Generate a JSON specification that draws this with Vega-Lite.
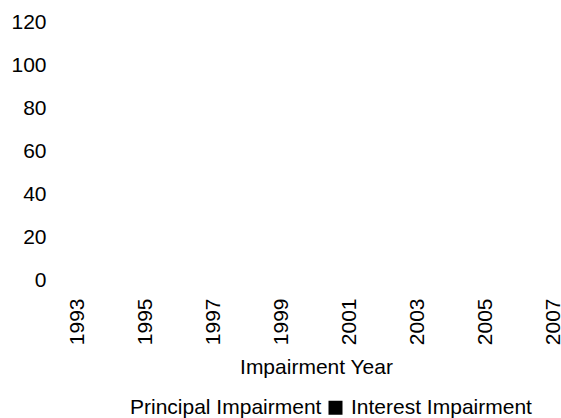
{
  "$schema": "https://vega.github.io/schema/vega-lite/v6.json",
  "width": 510,
  "height": 258,
  "padding": {"left": 10, "top": 11, "right": 0, "bottom": 0},
  "background": "white",
  "config": {
    "view": {"stroke": null},
    "font": "Liberation Sans",
    "axis": {"grid": false, "domain": false, "ticks": false, "labelColor": "black", "labelFontSize": 21, "titleColor": "black", "titleFontSize": 21, "titleFontWeight": "normal"},
    "legend": {"labelFontSize": 21, "labelColor": "black", "labelLimit": 0}
  },
  "data": {
    "values": [
      {"year": "1993", "type": "Principal Impairment", "value": 0},
      {"year": "1994", "type": "Principal Impairment", "value": 0},
      {"year": "1995", "type": "Principal Impairment", "value": 0},
      {"year": "1996", "type": "Principal Impairment", "value": 0},
      {"year": "1997", "type": "Principal Impairment", "value": 0},
      {"year": "1998", "type": "Principal Impairment", "value": 0},
      {"year": "1999", "type": "Principal Impairment", "value": 0},
      {"year": "2000", "type": "Principal Impairment", "value": 0},
      {"year": "2001", "type": "Principal Impairment", "value": 0},
      {"year": "2002", "type": "Principal Impairment", "value": 0},
      {"year": "2003", "type": "Principal Impairment", "value": 0},
      {"year": "2004", "type": "Principal Impairment", "value": 0},
      {"year": "2005", "type": "Principal Impairment", "value": 0},
      {"year": "2006", "type": "Principal Impairment", "value": 0},
      {"year": "2007", "type": "Principal Impairment", "value": 0},
      {"year": "1993", "type": "Interest Impairment", "value": 0},
      {"year": "1994", "type": "Interest Impairment", "value": 0},
      {"year": "1995", "type": "Interest Impairment", "value": 0},
      {"year": "1996", "type": "Interest Impairment", "value": 0},
      {"year": "1997", "type": "Interest Impairment", "value": 0},
      {"year": "1998", "type": "Interest Impairment", "value": 0},
      {"year": "1999", "type": "Interest Impairment", "value": 0},
      {"year": "2000", "type": "Interest Impairment", "value": 0},
      {"year": "2001", "type": "Interest Impairment", "value": 0},
      {"year": "2002", "type": "Interest Impairment", "value": 0},
      {"year": "2003", "type": "Interest Impairment", "value": 0},
      {"year": "2004", "type": "Interest Impairment", "value": 0},
      {"year": "2005", "type": "Interest Impairment", "value": 0},
      {"year": "2006", "type": "Interest Impairment", "value": 0},
      {"year": "2007", "type": "Interest Impairment", "value": 0}
    ]
  },
  "mark": {"type": "bar"},
  "encoding": {
    "x": {
      "field": "year", "type": "ordinal", "title": "Impairment Year",
      "axis": {"labelAngle": -90, "labelPadding": 18, "titlePadding": 12, "values": ["1993","1995","1997","1999","2001","2003","2005","2007"]}
    },
    "y": {
      "field": "value", "type": "quantitative", "title": null, "stack": "zero",
      "scale": {"domain": [0, 120], "nice": false},
      "axis": {"values": [0, 20, 40, 60, 80, 100, 120], "labelPadding": 15}
    },
    "color": {
      "field": "type", "type": "nominal", "title": null,
      "scale": {"domain": ["Principal Impairment", "Interest Impairment"], "range": ["white", "black"]},
      "legend": {"orient": "none", "legendX": 43, "legendY": 375, "direction": "horizontal", "symbolType": "square", "symbolSize": 196, "symbolStrokeWidth": 0, "columnPadding": 3, "labelOffset": 5}
    }
  }
}
